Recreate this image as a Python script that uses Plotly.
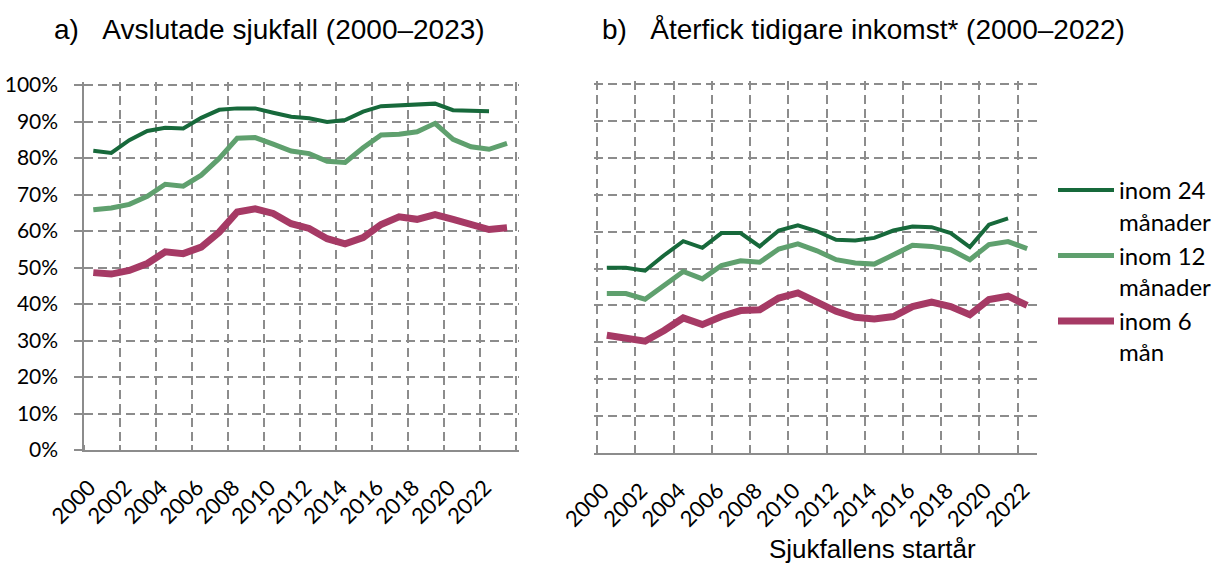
import plotly.graph_objects as go

# ---------------- data ----------------
years_a = list(range(2000, 2024))
years_b = list(range(2000, 2023))
tick_years = list(range(2000, 2023, 2))
tick_labels = [str(y) for y in tick_years]
pct_ticks = list(range(0, 101, 10))
pct_labels = [f"{v}%" for v in pct_ticks]

series_names = ["inom 24<br>månader", "inom 12<br>månader", "inom 6<br>mån"]

# a) Avslutade sjukfall (2000–2023), percent
a_24 = [82.0, 81.4, 84.9, 87.4, 88.3, 88.1, 91.0, 93.2, 93.6, 93.6, 92.4, 91.3,
        90.9, 89.9, 90.4, 92.7, 94.2, 94.5, 94.7, 94.9, 93.1, 92.9, 92.8, None]
a_12 = [65.8, 66.3, 67.3, 69.5, 72.8, 72.3, 75.3, 79.9, 85.4, 85.6, 83.8, 81.9,
        81.2, 79.1, 78.8, 82.8, 86.3, 86.5, 87.2, 89.5, 85.1, 83.1, 82.4, 84.0]
a_6 = [48.6, 48.2, 49.2, 51.1, 54.3, 53.8, 55.6, 59.7, 65.2, 66.1, 64.8, 62.0,
       60.7, 57.9, 56.5, 58.2, 61.8, 63.9, 63.2, 64.5, 63.2, 61.8, 60.4, 60.9]

# b) Återfick tidigare inkomst (2000–2022), percent
b_24 = [50.2, 50.2, 49.4, 53.6, 57.4, 55.6, 59.6, 59.6, 56.0, 60.3, 61.7, 60.1,
        57.8, 57.6, 58.3, 60.3, 61.4, 61.2, 59.6, 55.8, 61.9, 63.6, None]
b_12 = [43.2, 43.2, 41.7, 45.3, 49.2, 47.2, 50.8, 52.1, 51.7, 55.3, 56.7, 54.8,
        52.4, 51.5, 51.2, 53.7, 56.3, 56.0, 55.1, 52.4, 56.5, 57.3, 55.4]
b_6 = [31.9, 31.2, 30.3, 33.2, 36.6, 34.8, 37.0, 38.6, 38.8, 42.0, 43.4, 40.9,
       38.4, 36.8, 36.3, 37.0, 39.7, 40.9, 39.7, 37.5, 41.6, 42.5, 40.0]

# ---------------- style ----------------
W, H = 1217, 564
DG = "#17693B"
LG = "#5FA06E"
MG = "#A63A65"
GRID = "#8C8C8C"
YTICKFONT = dict(family="Lato, Calibri, Carlito, sans-serif", size=21, color="#000000")
XTICKFONT = dict(family="Lato, Calibri, Carlito, sans-serif", size=22, color="#000000")
TITLEFONT = dict(family="Liberation Sans, Arial, sans-serif", size=28, color="#000000")

colors = [DG, LG, MG]
widths = [4, 5, 7]

fig = go.Figure()

for name, ys, c, w in zip(series_names, [a_24, a_12, a_6], colors, widths):
    fig.add_trace(go.Scatter(x=years_a, y=ys, mode="lines", name=name,
                             line=dict(color=c, width=w), legendgroup=name,
                             xaxis="x", yaxis="y", showlegend=True,
                             hoverinfo="skip"))
for name, ys, c, w in zip(series_names, [b_24, b_12, b_6], colors, widths):
    fig.add_trace(go.Scatter(x=years_b, y=ys, mode="lines", name=name,
                             line=dict(color=c, width=w), legendgroup=name,
                             xaxis="x2", yaxis="y2", showlegend=False,
                             hoverinfo="skip"))


def px_x(p):
    return p / W


def px_y(p):
    return (H - p) / H


minor_common = dict(tickmode="linear", tick0=1999.5, dtick=2, showgrid=True,
                    gridcolor=GRID, gridwidth=2, griddash="9px,5px",
                    ticks="inside", ticklen=5, tickcolor=GRID, tickwidth=2)

xcommon = dict(tickmode="array", tickvals=tick_years, ticktext=tick_labels,
               tickangle=-45, tickfont=XTICKFONT, showgrid=False, zeroline=False,
               showline=True, linecolor=GRID, linewidth=2, ticks="",
               ticklabelstandoff=14, ticklabelshift=-4, fixedrange=True,
               automargin=False)

fig.update_layout(
    width=W, height=H,
    margin=dict(l=0, r=0, t=0, b=0, pad=0, autoexpand=False),
    paper_bgcolor="white", plot_bgcolor="white",
    xaxis=dict(domain=[px_x(84.3), px_x(518.7)], range=[1999.5, 2023.65],
               anchor="y", minor=minor_common, **xcommon),
    yaxis=dict(domain=[px_y(450), px_y(82.1)], range=[0, 100.8],
               tickmode="array", tickvals=pct_ticks, ticktext=pct_labels,
               tickfont=YTICKFONT, showline=True, linecolor=GRID, linewidth=2,
               ticks="outside", ticklen=8, tickcolor=GRID, tickwidth=2,
               showgrid=True, gridcolor=GRID, gridwidth=2, griddash="9px,5px",
               zeroline=False, anchor="x", ticklabelstandoff=12, fixedrange=True,
               automargin=False),
    xaxis2=dict(domain=[px_x(594.4), px_x(1036.7)], range=[1999.35, 2022.5],
                anchor="y2", minor=minor_common, **xcommon),
    yaxis2=dict(domain=[px_y(453), px_y(81.1)], range=[0, 100.8],
                tickmode="array", tickvals=pct_ticks, showticklabels=False,
                showline=False, ticks="", showgrid=True, gridcolor=GRID,
                gridwidth=2, griddash="9px,5px", zeroline=False, anchor="x2",
                fixedrange=True, automargin=False),
    legend=dict(x=px_x(1053), y=px_y(168), xanchor="left", yanchor="top",
                font=dict(family="Lato, Calibri, Carlito, sans-serif", size=24,
                          color="#000000"),
                bgcolor="rgba(0,0,0,0)", borderwidth=0, valign="top",
                itemwidth=56, tracegroupgap=2, traceorder="normal"),
    showlegend=True,
)

fig.add_annotation(text="a)\u00a0\u00a0\u00a0Avslutade sjukfall (2000–2023)",
                   xref="paper", yref="paper", x=px_x(52), y=px_y(29),
                   xanchor="left", yanchor="middle", showarrow=False,
                   font=TITLEFONT)
fig.add_annotation(text="b)\u00a0\u00a0\u00a0Återfick tidigare inkomst* (2000–2022)",
                   xref="paper", yref="paper", x=px_x(600), y=px_y(29),
                   xanchor="left", yanchor="middle", showarrow=False,
                   font=TITLEFONT)
fig.add_annotation(text="Sjukfallens startår",
                   xref="paper", yref="paper", x=px_x(872.5), y=px_y(549),
                   xanchor="center", yanchor="middle", showarrow=False,
                   font=dict(family="Liberation Sans, Arial, sans-serif", size=26,
                             color="#000000"))

fig.write_html("out.html", config={"displayModeBar": False, "staticPlot": True},
               post_script="document.body.style.margin='0';document.body.style.overflow='hidden';")
